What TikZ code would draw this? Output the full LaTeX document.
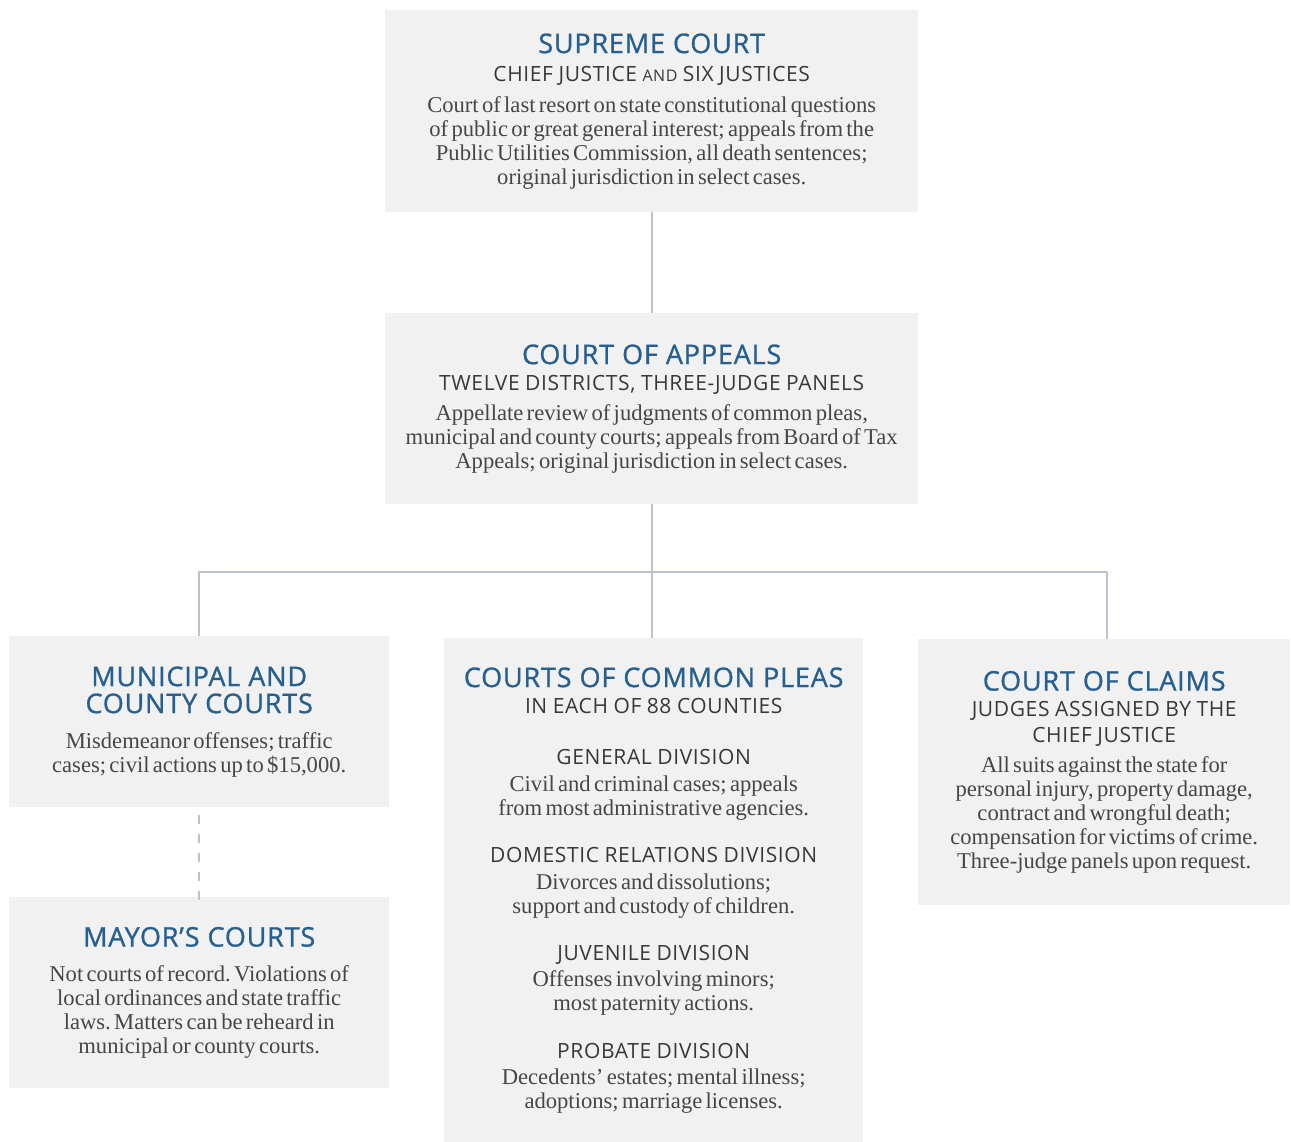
\documentclass[tikz,border=0pt]{standalone}
\usepackage{fontspec}
\setmainfont{Liberation Serif}[WordSpace=1.15]
\newfontfamily\headfont{Open Sans}[FakeBold=1,LetterSpace=3]
\newfontfamily\subfont{Open Sans}[LetterSpace=3]
\usetikzlibrary{positioning}
\definecolor{boxgray}{HTML}{F1F1F1}
\definecolor{courtblue}{HTML}{27608F}
\definecolor{subgray}{HTML}{383838}
\definecolor{bodygray}{HTML}{464646}
\definecolor{linegray}{HTML}{BCC3CE}
\setlength{\parindent}{0pt}
\setlength{\parskip}{0pt}
\frenchspacing
\newcommand{\courtname}{\headfont\fontsize{27}{27}\selectfont\spaceskip=8pt\relax\color{courtblue}}
\newcommand{\courtsub}{\subfont\fontsize{21}{26}\selectfont\spaceskip=5.5pt\relax\color{subgray}}
\newcommand{\courtdiv}{\subfont\fontsize{21}{26}\selectfont\spaceskip=5.5pt\relax\color{subgray}}
\newcommand{\courtbody}{\rmfamily\fontsize{22.6}{24}\selectfont\color{bodygray}}
\newcommand{\smallsub}{\fontsize{16}{26}\selectfont}
\tikzset{
  courtbox/.style={fill=boxgray,anchor=north west,inner sep=0pt,align=center,text width=#1},
  courtline/.style={draw=linegray,line width=2pt,line cap=butt}
}
\begin{document}
\begin{tikzpicture}[line cap=round,line join=round,x=1pt,y=-1pt]
\useasboundingbox (0,0) rectangle (1291,1142);
% top two courts
\node[courtbox=533pt,minimum height=202pt] (supreme) at (385,10) {
{\courtname SUPREME COURT\par}
\vspace{2pt}
{\courtsub CHIEF JUSTICE {\smallsub AND} SIX JUSTICES\par}
\vspace{7pt}
{\courtbody Court of last resort on state constitutional questions\\
of public or great general interest; appeals from the\\
Public Utilities Commission, all death sentences;\\
original jurisdiction in select cases.\par}
\vspace{8pt}
};
\node[courtbox=533pt,minimum height=191pt] (appeals) at (385,313) {
{\courtname COURT OF APPEALS\par}
{\courtsub TWELVE DISTRICTS, THREE-JUDGE PANELS\par}
\vspace{6pt}
{\courtbody Appellate review of judgments of common pleas,\\
municipal and county courts; appeals from Board of Tax\\
Appeals; original jurisdiction in select cases.\par}
\vspace{5pt}
};
% trial courts
\node[courtbox=380pt,minimum height=171pt] (municipal) at (9,636) {
{\courtname MUNICIPAL AND\\ COUNTY COURTS\par}
\vspace{11pt}
{\courtbody Misdemeanor offenses; traffic\\
cases; civil actions up to \$15,000.\par}
};
\node[courtbox=380pt,minimum height=191pt] (mayor) at (9,897) {
{\courtname MAYOR’S COURTS\par}
\vspace{11pt}
{\courtbody Not courts of record. Violations of\\
local ordinances and state traffic\\
laws. Matters can be reheard in\\
municipal or county courts.\par}
};
\node[courtbox=419pt,minimum height=504pt] (pleas) at (444,638) {
{\courtname COURTS OF COMMON PLEAS\par}
{\courtsub IN EACH OF 88 COUNTIES\par}
\vspace{25pt}
{\courtdiv GENERAL DIVISION\par}
\vspace{3pt}
{\courtbody Civil and criminal cases; appeals\\
from most administrative agencies.\par}
\vspace{21pt}
{\courtdiv DOMESTIC RELATIONS DIVISION\par}
\vspace{3pt}
{\courtbody Divorces and dissolutions;\\
support and custody of children.\par}
\vspace{21pt}
{\courtdiv JUVENILE DIVISION\par}
\vspace{2pt}
{\courtbody Offenses involving minors;\\
most paternity actions.\par}
\vspace{22pt}
{\courtdiv PROBATE DIVISION\par}
\vspace{2pt}
{\courtbody Decedents’ estates; mental illness;\\
adoptions; marriage licenses.\par}
};
\node[courtbox=372pt,minimum height=266pt] (claims) at (918,639) {
{\courtname COURT OF CLAIMS\par}
{\courtsub JUDGES ASSIGNED BY THE\\ CHIEF JUSTICE\par}
\vspace{6pt}
{\courtbody All suits against the state for\\
personal injury, property damage,\\
contract and wrongful death;\\
compensation for victims of crime.\\
Three-judge panels upon request.\par}
};
% connectors
\draw[courtline] (supreme) -- (appeals);
\coordinate (split) at ([yshift=-68pt]appeals.south);
\draw[courtline] (appeals.south) -- (appeals.south |- pleas.north);
\draw[courtline] (municipal.north) |- (split) -| ([xshift=3pt]claims.north);
\draw[courtline,line width=1.6pt,dash pattern=on 9pt off 10pt] ([yshift=-8pt]municipal.south) -- ([yshift=-9pt]mayor.north);
\end{tikzpicture}
\end{document}
